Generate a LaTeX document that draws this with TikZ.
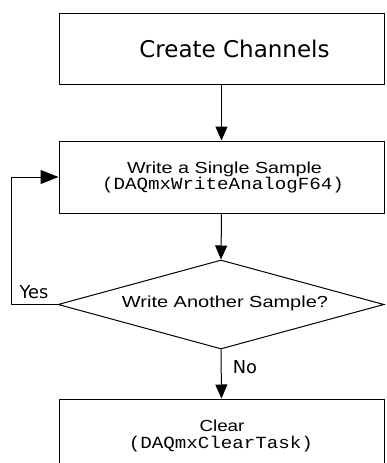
\documentclass[tikz,border=0pt]{standalone}
\usepackage{fontspec}
\usepackage{graphicx}
\usetikzlibrary{arrows.meta,shapes.geometric}
\newfontfamily\verdanalike{DejaVu Sans}
\newfontfamily\arialike{Liberation Sans}
\newfontfamily\courlike{Liberation Mono}
\newcommand\fitto[2]{\resizebox{#1pt}{\height}{#2}}
\tikzset{
  boxnode/.style={draw=black, line width=1pt, minimum width=325pt, inner sep=0pt},
  decnode/.style={diamond, draw=black, line width=1pt, minimum width=326pt, minimum height=89pt, inner sep=0pt},
  txt/.style={anchor=base, inner sep=0pt, text=black},
  arr/.style={draw=black, line width=1pt, -{Triangle[length=14pt,width=12pt]}},
  bigarr/.style={draw=black, line width=1pt, -{Triangle[length=18pt,width=14pt]}},
}
\begin{document}
\begin{tikzpicture}[x=1pt,y=-1pt]
\clip (0,0) rectangle (386,463);
\fill[white] (0,0) rectangle (386,463);
% boxes
\node[boxnode, minimum height=71pt] (box1) at (221.5,48.5) {};
\node[boxnode, minimum height=72pt] (box2) at (221.5,177) {};
\node[decnode] (dec) at (221,304.5) {};
\node[boxnode, minimum height=90pt] (box3) at (221.5,444) {};
% texts
\node[txt] (t1) at (234.5,57) {\fontsize{23}{26}\verdanalike Create Channels};
\node[txt] (t2a) at (224.5,173) {\fitto{195}{\fontsize{16}{18}\arialike Write a Single Sample}};
\node[txt] (t2b) at (223,189) {\fitto{242}{\fontsize{17}{19}\courlike (DAQmxWriteAnalogF64)}};
\node[txt] (t3) at (225,307) {\fitto{206}{\fontsize{16}{18}\arialike Write Another Sample?}};
\node[txt] (yes) at (34,298) {\fontsize{17.8}{20}\verdanalike Yes};
\node[txt] (no) at (245,373) {\fontsize{17.8}{20}\verdanalike No};
\node[txt] (t4a) at (222,431) {\fitto{45}{\fontsize{16}{18}\arialike Clear}};
\node[txt] (t4b) at (221,448) {\fitto{184}{\fontsize{17}{19}\courlike (DAQmxClearTask)}};
% connectors
\draw[arr] (box1.south) -- (box2.north);
\draw[arr] (box2.south) -- (dec.north);
\draw[arr] (dec.south) -- (box3.north);
\coordinate (loopc) at (11,304.5);
\draw[bigarr] (dec.west) -- (loopc) |- (box2.west);
\end{tikzpicture}
\end{document}
